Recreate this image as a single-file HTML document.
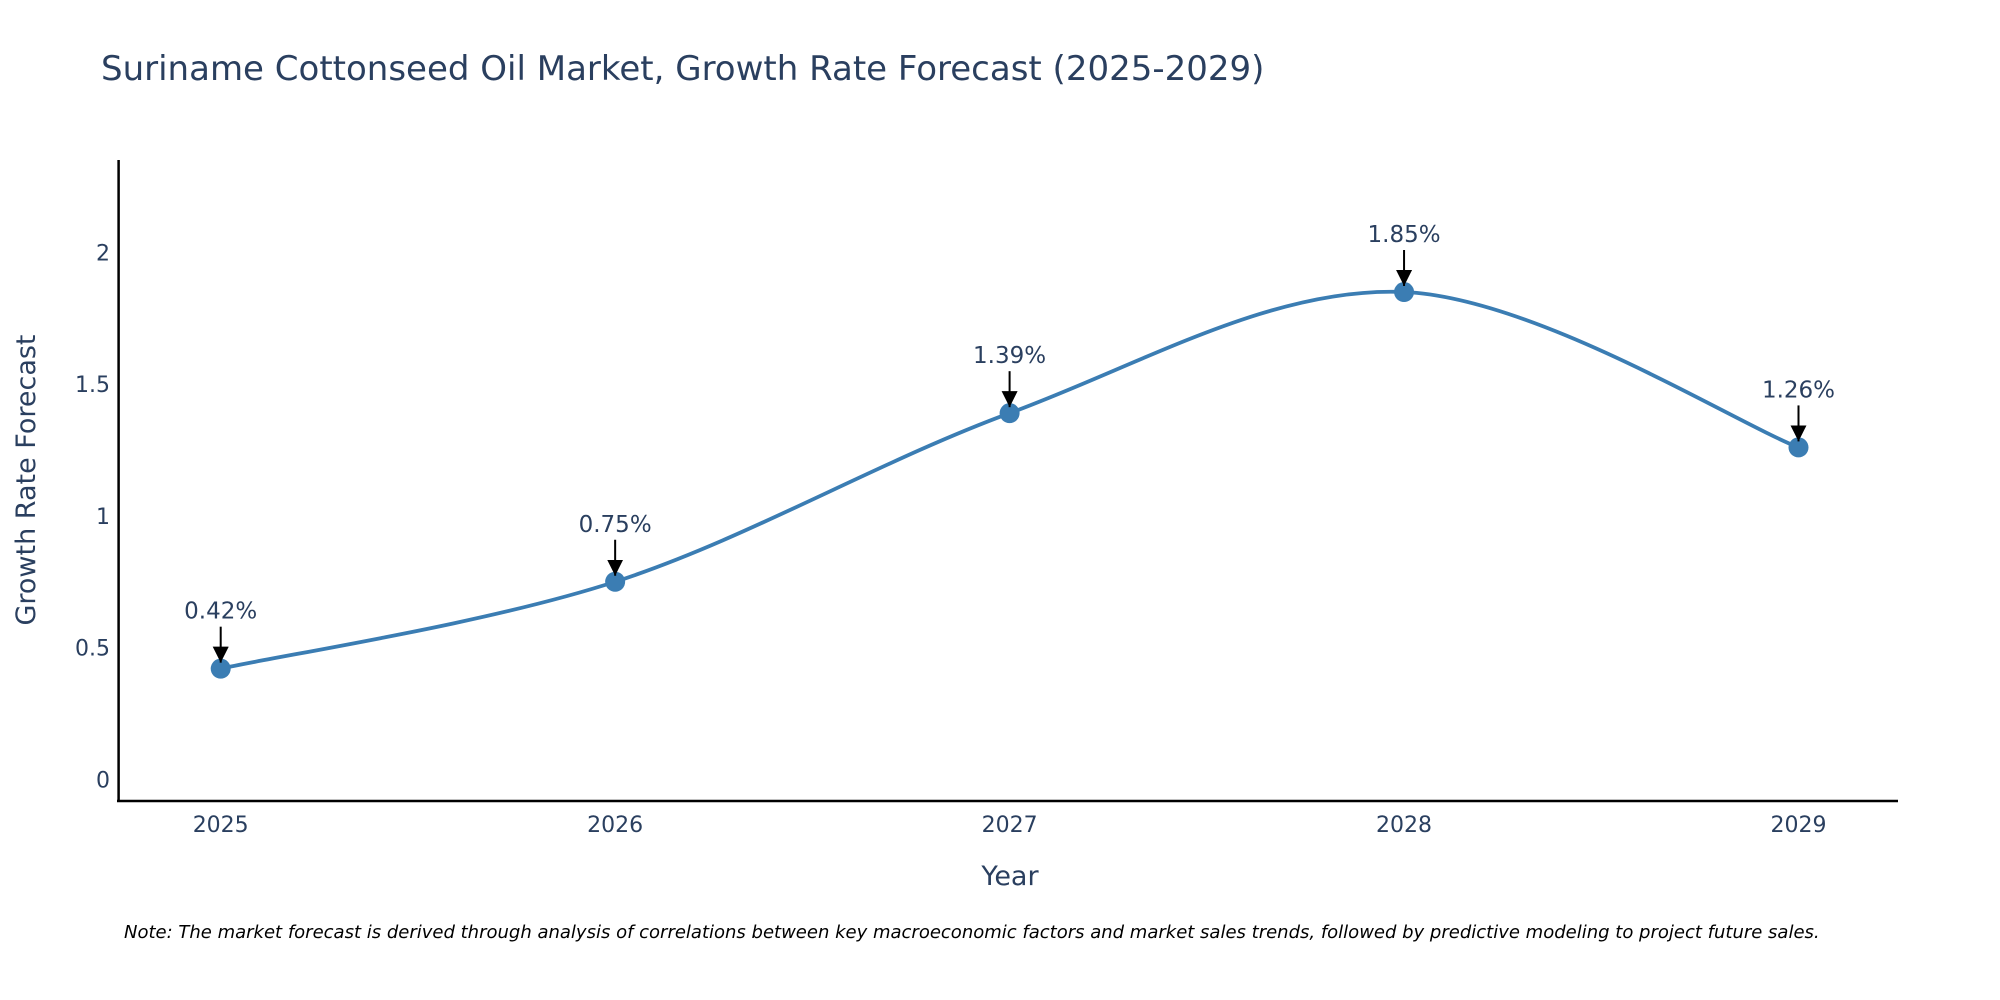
<!DOCTYPE html>
<html><head><meta charset="utf-8"><style>
body{margin:0;background:#fff;}
svg{display:block;font-family:"DejaVu Sans","Liberation Sans",sans-serif;}
</style></head><body>
<svg id="chart" width="2000" height="1000">
<text x="101" y="80" font-size="34" fill="#2a3f5f">Suriname Cottonseed Oil Market, Growth Rate Forecast (2025-2029)</text>
<g id="yticks"></g>
<g id="xticks"></g>
<line x1="118.6" y1="160" x2="118.6" y2="802" stroke="#000" stroke-width="2.5"/>
<line x1="117" y1="801" x2="1898" y2="801" stroke="#000" stroke-width="2.5"/>
<g id="series"></g>
<text x="1010" y="885" font-size="27" fill="#2a3f5f" text-anchor="middle">Year</text>
<text x="35" y="480" font-size="27" fill="#2a3f5f" text-anchor="middle" transform="rotate(-90 35 480)">Growth Rate Forecast</text>
<text x="124" y="938" font-size="18" font-style="italic" fill="#000">Note: The market forecast is derived through analysis of correlations between key macroeconomic factors and market sales trends, followed by predictive modeling to project future sales.</text>
</svg>
<script>
const years = [2025, 2026, 2027, 2028, 2029];
const values = [0.42, 0.75, 1.39, 1.85, 1.26];
const yTickValues = [0, 0.5, 1, 1.5, 2];
const yTickLabels = ["0", "0.5", "1", "1.5", "2"];
const NS = "http://www.w3.org/2000/svg";
const xScale = v => 220.7 + (v - 2025) * (1798.5 - 220.7) / 4;
const yScale = v => 779.3 - v * (779.3 - 252.5) / 2;
function mk(tag, attrs, parent){const e=document.createElementNS(NS,tag);for(const k in attrs)e.setAttribute(k,attrs[k]);parent.appendChild(e);return e;}
const yg=document.getElementById('yticks');
yTickValues.forEach((v,i)=>{
  const t=mk('text',{x:110,y:yScale(v)+8,'font-size':22,fill:'#2a3f5f','text-anchor':'end'},yg);
  
  
  t.textContent=yTickLabels[i];
});
const xg=document.getElementById('xticks');
years.forEach(y=>{
  const t=mk('text',{x:xScale(y),y:832,'font-size':22,fill:'#2a3f5f','text-anchor':'middle'},xg);
  
  
  t.textContent=String(y);
});
const sg=document.getElementById('series');
const pts=years.map((y,i)=>[xScale(y),yScale(values[i])]);
let d=`M${pts[0][0]},${pts[0][1]}`;
for(let i=0;i<pts.length-1;i++){
  const p0=pts[Math.max(0,i-1)],p1=pts[i],p2=pts[i+1],p3=pts[Math.min(pts.length-1,i+2)];
  const c1=[p1[0]+(p2[0]-p0[0])/6,p1[1]+(p2[1]-p0[1])/6];
  const c2=[p2[0]-(p3[0]-p1[0])/6,p2[1]-(p3[1]-p1[1])/6];
  d+=` C${c1[0]},${c1[1]} ${c2[0]},${c2[1]} ${p2[0]},${p2[1]}`;
}
const line=mk('path',{d:d,fill:'none',stroke:'#3b7db3','stroke-width':3.8},sg);


mk('defs',{},sg).innerHTML='<marker id="ah" viewBox="0 0 10 10" refX="10" refY="5" markerWidth="8" markerHeight="8" orient="auto"><path d="M0,0L10,5L0,10z" fill="#000"/></marker>';
pts.forEach((p,i)=>{
  const c=mk('circle',{cx:p[0],cy:p[1],r:10,fill:'#3b7db3'},sg);
  
  
  const a=mk('line',{x1:p[0],y1:p[1]-42,x2:p[0],y2:p[1]-6,stroke:'#000','stroke-width':2,'marker-end':'url(#ah)'},sg);
  
  
  const t=mk('text',{x:p[0],y:p[1]-50,'font-size':23,fill:'#2a3f5f','text-anchor':'middle'},sg);
  
  
  t.textContent=values[i].toFixed(2)+'%';
});
</script>
</body></html>
